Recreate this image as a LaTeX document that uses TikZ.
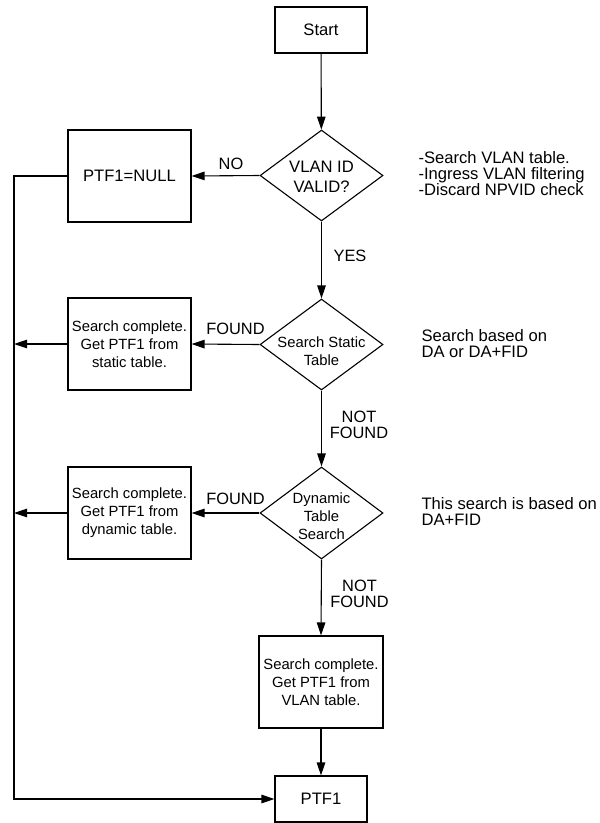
\documentclass[tikz,border=0pt]{standalone}
\usepackage{fontspec}
\setmainfont{Liberation Sans}
\usetikzlibrary{shapes.geometric,arrows.meta}
\begin{document}
\begin{tikzpicture}[x=1pt,y=-1pt,
  line width=1.1pt,
  box/.style={draw,rectangle,inner sep=0pt,align=center},
  dia/.style={draw,diamond,inner sep=0pt,minimum width=123pt,minimum height=91pt},
  bigtxt/.style={font=\fontsize{16.6}{16.5}\selectfont,inner sep=0pt},
  smtxt/.style={font=\fontsize{14.8}{18}\selectfont,inner sep=0pt,align=center},
  lbl/.style={font=\fontsize{16.4}{16}\selectfont,inner sep=0pt,align=center},
  note/.style={font=\fontsize{16.6}{16}\selectfont,inner sep=0pt,align=left,anchor=west},
  arr/.style={-{Triangle[length=13pt,width=8.5pt]}},
]
\useasboundingbox (0,0) rectangle (600,823);

% nodes
\node[box,bigtxt,minimum width=92pt,minimum height=46pt] (start) at (321,30) {Start};
\node[dia] (d1) at (321.5,175.5) {};
\node[lbl,font=\fontsize{16.6}{20}\selectfont] (t1) at (321.5,177) {VLAN ID\\VALID?};
\node[box,bigtxt,minimum width=123pt,minimum height=92pt] (null) at (129.5,176) {PTF1=NULL};

\node[dia] (d2) at (321.5,344.5) {};
\node[smtxt] (t2) at (321.5,351) {Search Static\\Table};
\node[box,smtxt,minimum width=123pt,minimum height=92pt] (b2) at (129.5,344) {Search complete.\\Get PTF1 from\\static table.};

\node[dia,minimum height=92pt] (d3) at (321.5,513) {};
\node[smtxt] (t3) at (321.5,516) {Dynamic\\Table\\Search};
\node[box,smtxt,minimum width=123pt,minimum height=92pt] (b3) at (129.5,513) {Search complete.\\Get PTF1 from\\dynamic table.};

\node[box,smtxt,minimum width=124pt,minimum height=92pt] (b4) at (321,682) {Search complete.\\Get PTF1 from\\VLAN table.};
\node[box,bigtxt,minimum width=92pt,minimum height=46pt] (ptf) at (321,799) {PTF1};

% notes
\node[note] (n1) at (418,174) {-Search VLAN table.\\-Ingress VLAN filtering\\-Discard NPVID check};
\node[note] (n2) at (421,343.5) {Search based on\\DA or DA+FID};
\node[note] (n3) at (421,511.5) {This search is based on\\DA+FID};

% labels
\node[lbl] (lno) at (231,164) {NO};
\node[lbl] (lyes) at (350,256) {YES};
\node[lbl] (lf1) at (235.5,329) {FOUND};
\node[lbl] (lf2) at (235.5,499) {FOUND};
\node[lbl] (lnf1) at (359,425) {NOT\\FOUND};
\node[lbl] (lnf2) at (359.5,593.5) {NOT\\FOUND};

% bus coordinates
\coordinate (c1) at (14,176);
\coordinate (c2) at (14,344);
\coordinate (c3) at (14,513);
\coordinate (c4) at (14,799);

% connectors
\draw[arr] (start) -- (d1);
\draw[arr] (d1.west) -- (null.east);
\draw[arr] (d1.south) -- (d2.north);
\draw[arr] (d2.west) -- (b2.east);
\draw[arr] (d2.south) -- (d3.north);
\draw[arr] (d3.west) -- (b3.east);
\draw[arr] (d3.south) -- (b4.north);
\draw[arr] (b4.south) -- (ptf.north);
\draw[arr] (null.west) -- (c1) -- (c4) -- (ptf.west);
\draw[arr] (b2.west) -- (c2);
\draw[arr] (b3.west) -- (c3);
\end{tikzpicture}
\end{document}
